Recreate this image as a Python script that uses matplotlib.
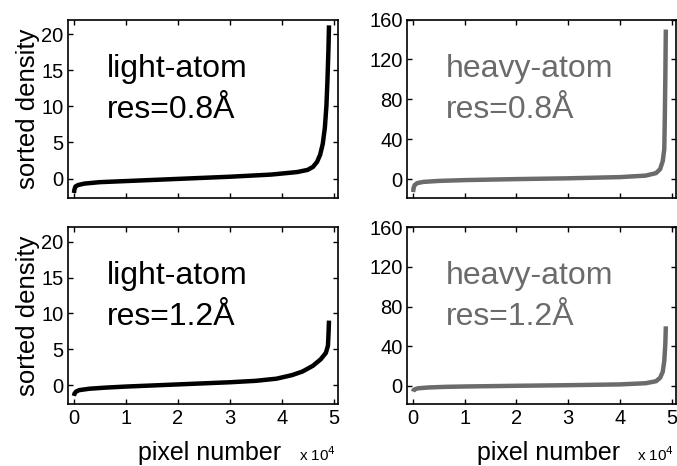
import matplotlib
matplotlib.use("Agg")
import matplotlib.pyplot as plt

plt.rcParams["font.family"] = ["Liberation Sans", "DejaVu Sans"]

# sorted density curves, x in units of 1e4 pixels
light08_x = [0.0, 0.01, 0.03, 0.08, 0.2, 0.5, 1.0, 2.0, 3.0, 3.8, 4.3, 4.5, 4.6,
             4.68, 4.74, 4.79, 4.83, 4.86, 4.88, 4.9, 4.91]
light08_y = [-2.0, -1.5, -1.1, -0.9, -0.7, -0.5, -0.35, -0.05, 0.25, 0.55, 0.9,
             1.2, 1.6, 2.3, 3.3, 4.8, 7.0, 10.0, 13.5, 18.0, 21.2]

heavy08_x = [0.0, 0.01, 0.03, 0.08, 0.2, 0.5, 1.0, 2.0, 3.0, 4.0, 4.5, 4.7, 4.78,
             4.83, 4.86, 4.87, 4.88, 4.89]
heavy08_y = [-13, -9, -6, -4, -2.8, -1.8, -1.0, 0.0, 0.8, 2.0, 3.5, 6, 10, 18,
             30, 60, 100, 150]

light12_x = [0.0, 0.01, 0.04, 0.1, 0.3, 0.6, 1.0, 1.5, 2.0, 2.5, 3.0, 3.5, 3.9,
             4.2, 4.4, 4.6, 4.75, 4.85, 4.89, 4.9, 4.91]
light12_y = [-1.5, -1.2, -0.9, -0.7, -0.5, -0.35, -0.2, -0.05, 0.1, 0.25, 0.4,
             0.6, 0.9, 1.4, 1.9, 2.7, 3.6, 4.5, 5.5, 7.0, 9.0]

heavy12_x = [0.0, 0.01, 0.04, 0.1, 0.3, 0.6, 1.0, 2.0, 3.0, 4.0, 4.5, 4.7, 4.78,
             4.83, 4.86, 4.88, 4.89]
heavy12_y = [-6, -4.5, -3.5, -2.6, -1.8, -1.2, -0.8, -0.1, 0.5, 1.3, 2.5, 4.5, 8,
             14, 25, 42, 60]

x_ticks = [0, 1, 2, 3, 4, 5]
light_yticks = [0, 5, 10, 15, 20]
heavy_yticks = [0, 40, 80, 120, 160]

GRAY = "#6b6b6b"

panels = [
    # x, y, color, label, res, ytick, ylim, position
    (light08_x, light08_y, "black", "light-atom", "res=0.8Å", light_yticks, (-2.7, 22), [0.100, 0.575, 0.399, 0.383]),
    (heavy08_x, heavy08_y, GRAY, "heavy-atom", "res=0.8Å", heavy_yticks, (-19, 160), [0.601, 0.575, 0.397, 0.383]),
    (light12_x, light12_y, "black", "light-atom", "res=1.2Å", light_yticks, (-2.7, 22), [0.100, 0.132, 0.399, 0.380]),
    (heavy12_x, heavy12_y, GRAY, "heavy-atom", "res=1.2Å", heavy_yticks, (-19, 160), [0.601, 0.132, 0.397, 0.380]),
]

fig = plt.figure(figsize=(6.77, 4.66), dpi=100)

for i, (xs, ys, color, label, res, yt, ylim, pos) in enumerate(panels):
    ax = fig.add_axes(pos)
    ax.plot(xs, ys, color=color, lw=3.2, solid_capstyle="butt")
    ax.set_xlim(-0.12, 5.08)
    ax.set_ylim(*ylim)
    ax.set_xticks(x_ticks)
    ax.set_yticks(yt)
    ax.tick_params(direction="in", top=True, right=True, length=3.5, width=1,
                   labelsize=14.5, pad=3)
    for s in ax.spines.values():
        s.set_linewidth(1.2)
    if i < 2:
        ax.set_xticklabels([])
    if i % 2 == 0:
        ax.set_ylabel("sorted density", fontsize=18.5, labelpad=1)
    ax.text(0.144, 0.68, label, transform=ax.transAxes, fontsize=23, color=color)
    ax.text(0.144, 0.45, res, transform=ax.transAxes, fontsize=23, color=color)

# x labels along the bottom edge
for xc, xm in [(0.31, 0.496), (0.81, 0.996)]:
    fig.text(xc, 0.013, "pixel number", fontsize=18, ha="center", va="baseline")
    fig.text(xm, 0.010, r"x 10$^4$", fontsize=11, ha="right", va="baseline")

fig.savefig("out.png", dpi=100)
